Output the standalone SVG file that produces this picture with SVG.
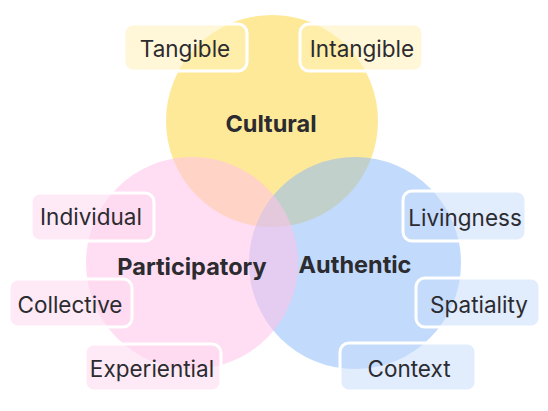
<svg xmlns="http://www.w3.org/2000/svg" width="548" height="411" viewBox="0 0 548 411">
<style>
.t{font-family:Inter,"Liberation Sans",sans-serif;font-size:22.5px;fill:#2b2b30;text-anchor:middle}
.b{font-family:Inter,"Liberation Sans",sans-serif;font-size:23.5px;font-weight:700;fill:#2b2b30;text-anchor:middle}
.tag{stroke:#fff;stroke-width:3}
.ty{fill:#FFF0B8;fill-opacity:.55}
.tp{fill:#FDD8EF;fill-opacity:.55}
.tb{fill:#C8DCFB;fill-opacity:.55}
</style>
<rect width="548" height="411" fill="#fff"/>
<g id="circles">
<circle id="cultural" cx="272" cy="121" r="106" fill="#FEE999"/>
<circle id="authentic" cx="355" cy="263" r="106" fill="#8CB9F7" fill-opacity="0.53"/>
<circle id="participatory" cx="192" cy="263" r="106" fill="#FFC3EA" fill-opacity="0.56"/>
</g>
<g id="labels">
<text class="b" x="271" y="132">Cultural</text>
<text class="b" x="192" y="275">Participatory</text>
<text class="b" x="355" y="273">Authentic</text>
</g>
<g id="tangible"><rect class="tag ty" x="124" y="24" width="123" height="47" rx="9"/><text class="t" x="185" y="57">Tangible</text></g>
<g id="intangible"><rect class="tag ty" x="300" y="24" width="123" height="47" rx="9"/><text class="t" x="362" y="57">Intangible</text></g>
<g id="individual"><rect class="tag tp" x="31" y="193" width="123" height="48" rx="9"/><text class="t" x="91" y="225">Individual</text></g>
<g id="collective"><rect class="tag tp" x="9" y="279" width="123" height="48" rx="9"/><text class="t" x="70" y="313">Collective</text></g>
<g id="experiential"><rect class="tag tp" x="85" y="344" width="136" height="47" rx="9"/><text class="t" x="152" y="377">Experiential</text></g>
<g id="livingness"><rect class="tag tb" x="403" y="191" width="123" height="50" rx="9"/><text class="t" x="465" y="226">Livingness</text></g>
<g id="spatiality"><rect class="tag tb" x="416" y="278" width="124" height="49" rx="9"/><text class="t" x="479" y="313">Spatiality</text></g>
<g id="context"><rect class="tag tb" x="340" y="343" width="136" height="48" rx="9"/><text class="t" x="409" y="377">Context</text></g>
<g id="connectors"/>
</svg>
